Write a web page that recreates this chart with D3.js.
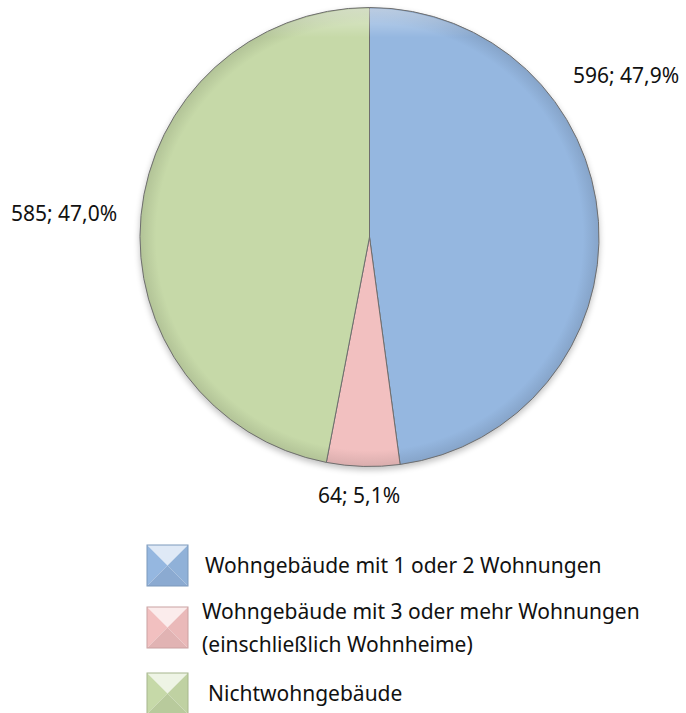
<!DOCTYPE html>
<html lang="de">
<head>
<meta charset="UTF-8"/>
<title>Gebäude</title>
<script src="https://d3js.org/d3.v7.min.js"></script>
<style>
  body { margin: 0; background: #fff; }
  text { font-family: "Noto Sans", sans-serif; fill: #111; }
</style>
</head>
<body>
<svg width="686" height="713"></svg>
<script>
// data
var categories = ["Wohngebäude mit 1 oder 2 Wohnungen",
                  "Wohngebäude mit 3 oder mehr Wohnungen|(einschließlich Wohnheime)",
                  "Nichtwohngebäude"];
var values = [596, 64, 585];
var labels = ["596; 47,9%", "64; 5,1%", "585; 47,0%"];
var colors = ["#95b7e0", "#f2c0c0", "#c6d9a8"];

var svg = d3.select("svg");
var cx = 369.5, cy = 237, radius = 229.5;

var defs = svg.append("defs");
colors.forEach(function(c, i) {
  var g = defs.append("radialGradient").attr("id", "grad" + i)
    .attr("gradientUnits", "userSpaceOnUse")
    .attr("cx", 0).attr("cy", 0).attr("r", radius);
  g.append("stop").attr("offset", "0%").attr("stop-color", c);
  g.append("stop").attr("offset", "93%").attr("stop-color", c);
  g.append("stop").attr("offset", "100%").attr("stop-color", d3.color(c).darker(0.3));
});
// soft highlight at the top rim
var hl = defs.append("linearGradient").attr("id", "hl")
  .attr("gradientUnits", "userSpaceOnUse")
  .attr("x1", 0).attr("y1", -radius).attr("x2", 0).attr("y2", -radius + 30);
hl.append("stop").attr("offset", "0%").attr("stop-color", "#fff").attr("stop-opacity", 0.45);
hl.append("stop").attr("offset", "100%").attr("stop-color", "#fff").attr("stop-opacity", 0);

var f = defs.append("filter").attr("id", "shadow")
  .attr("x", "-10%").attr("y", "-10%").attr("width", "120%").attr("height", "125%")
  .attr("color-interpolation-filters", "sRGB");
f.append("feGaussianBlur").attr("in", "SourceAlpha").attr("stdDeviation", 3);
f.append("feOffset").attr("dy", 3);
f.append("feComponentTransfer").append("feFuncA").attr("type", "linear").attr("slope", 0.25);
var m = f.append("feMerge");
m.append("feMergeNode");
m.append("feMergeNode").attr("in", "SourceGraphic");

var pie = d3.pie().sort(null).value(function(d) { return d; });
var arc = d3.arc().innerRadius(0).outerRadius(radius);
var arcs = pie(values);

var g = svg.append("g").attr("transform", "translate(" + cx + "," + cy + ")");
var gp = g.append("g").attr("filter", "url(#shadow)");
gp.selectAll("path.slice").data(arcs).enter().append("path")
  .attr("class", "slice")
  .attr("d", arc)
  .attr("fill", function(d, i) { return "url(#grad" + i + ")"; })
  .attr("stroke", "#6e6e6e")
  .attr("stroke-width", 1);
g.append("circle").attr("r", radius - 1).attr("fill", "url(#hl)");

// data labels
var labelPos = [[626, 83], [359, 503], [64, 221]];
svg.selectAll("text.lbl").data(labels).enter().append("text")
  .attr("class", "lbl")
  .attr("x", function(d, i) { return labelPos[i][0]; })
  .attr("y", function(d, i) { return labelPos[i][1]; })
  .attr("text-anchor", "middle")
  .style("font-size", "21px")
  .text(function(d) { return d; });

// legend
var legY = [565, 627, 693];
var lg = svg.append("g");
categories.forEach(function(name, i) {
  var x0 = 147, y0 = legY[i] - 20, s = 41;
  var item = lg.append("g");
  var base = d3.color(colors[i]);
  function poly(pts, fill) {
    item.append("polygon").attr("points", pts.map(function(p) { return p.join(","); }).join(" ")).attr("fill", fill);
  }
  // bevelled square: pale top, darker bottom
  poly([[x0, y0], [x0 + s, y0], [x0 + s / 2, y0 + s / 2]], d3.interpolateRgb(base, "#fff")(0.7));
  poly([[x0, y0], [x0 + s / 2, y0 + s / 2], [x0, y0 + s]], base);
  poly([[x0 + s, y0], [x0 + s / 2, y0 + s / 2], [x0 + s, y0 + s]], base.darker(0.1));
  poly([[x0, y0 + s], [x0 + s / 2, y0 + s / 2], [x0 + s, y0 + s]], base.darker(0.2));
  item.append("rect").attr("x", x0).attr("y", y0).attr("width", s).attr("height", s)
    .attr("fill", "none").attr("stroke", base.darker(0.5)).attr("stroke-width", 1);
  var lines = name.split("|");
  var tx = i === 1 ? 202 : (i === 2 ? 208 : 205);
  var ty = lines.length > 1 ? legY[i] - 8 : legY[i] + 8;
  var t = item.append("text").attr("x", tx).attr("y", ty).style("font-size", "21px");
  lines.forEach(function(l, k) {
    t.append("tspan").attr("x", tx).attr("dy", k === 0 ? 0 : 33).text(l);
  });
});
</script>
</body>
</html>
